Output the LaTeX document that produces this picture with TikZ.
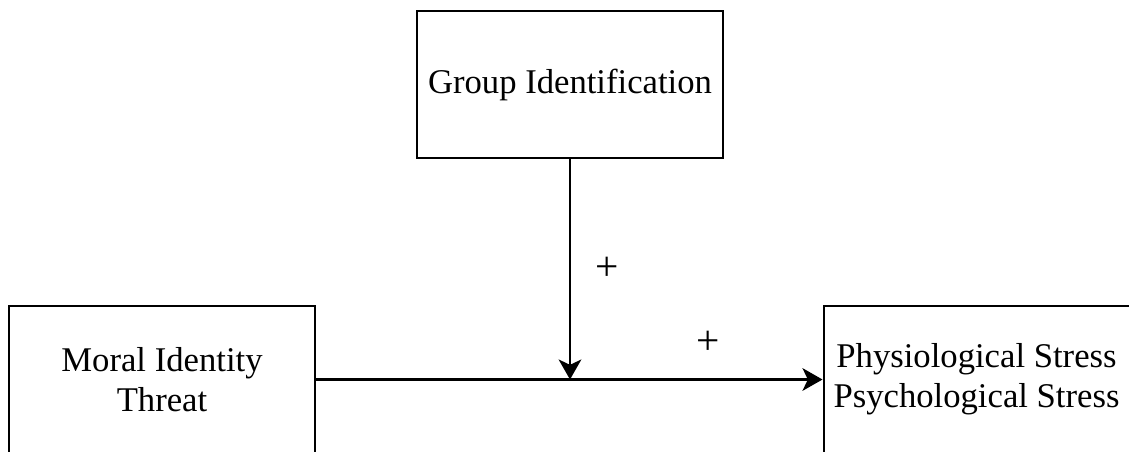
\documentclass[tikz,border=0pt]{standalone}
\usepackage{fontspec}
\setmainfont{Liberation Serif}
\usetikzlibrary{arrows.meta}
\begin{document}
\begin{tikzpicture}[x=0.75pt,y=-0.75pt,
  box/.style={draw=black,line width=1.5pt,minimum width=229.5pt,minimum height=110.25pt,inner sep=0pt,align=center,font=\fontsize{26}{30}\selectfont},
  conn/.style={line width=1.6pt,-{Stealth[length=15pt,width=17pt,inset=4pt]}},
  sign/.style={font=\fontsize{31}{34}\selectfont,inner sep=0pt}]
\useasboundingbox (0,0) rectangle (1129,451);
\clip (0,0) rectangle (1129,451);
\node[box] (group) at (570,84.5) {Group Identification};
\node[box] (moral) at (162,379.5) {Moral Identity\\Threat};
\node[box] (stress) at (976.5,379.5) {Physiological Stress\\Psychological Stress};
\coordinate (join) at (group.south |- moral.east);
\draw[conn] (moral.east) -- (stress.west);
\draw[conn] (group.south) -- (join);
\node[sign] (p1) at (607,269) {+};
\node[sign] (p2) at (708,343) {+};
\end{tikzpicture}
\end{document}
